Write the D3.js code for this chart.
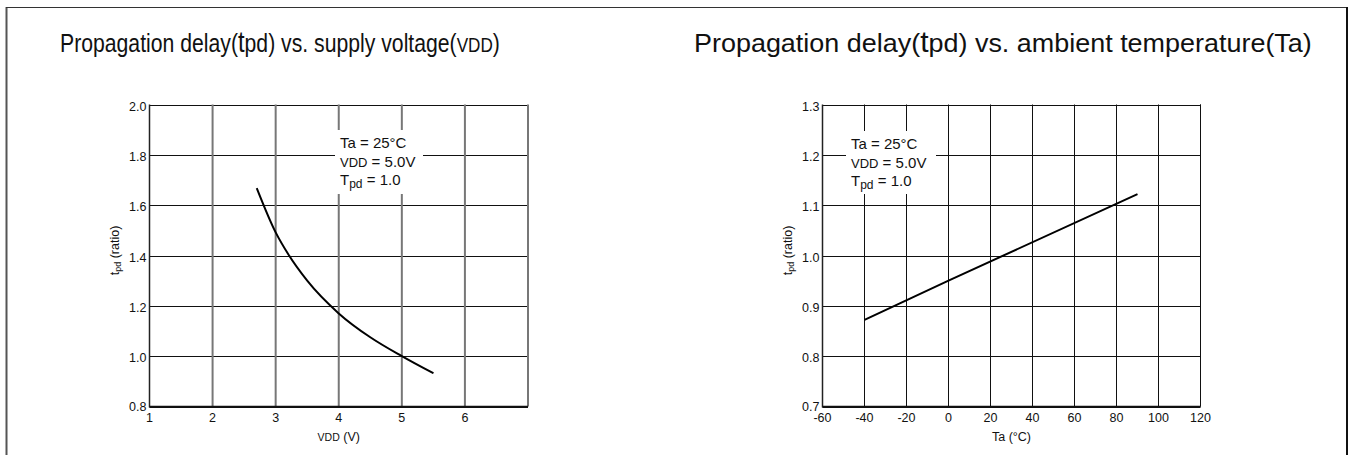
<!DOCTYPE html>
<html>
<head>
<meta charset="utf-8">
<script src="https://cdn.jsdelivr.net/npm/d3@7"></script>
<style>
  body { margin: 0; background: #fff; }
  text { font-family: "Liberation Sans", Arial, sans-serif; fill: #111; }
</style>
</head>
<body>
<script>
// data
const vddVolts  = [2.7, 3.0, 3.2, 3.5, 4.0, 4.5, 5.0, 5.5];
const vddRatio  = [1.668, 1.492, 1.405, 1.30, 1.17, 1.075, 1.0, 0.932];
const vddTicks  = [1, 2, 3, 4, 5, 6];
const vddRatioTicks = [0.8, 1.0, 1.2, 1.4, 1.6, 1.8, 2.0];

const tempC     = [-40, 0, 90];
const tempRatio = [0.872, 0.95, 1.122];
const tempTicks = [-60, -40, -20, 0, 20, 40, 60, 80, 100, 120];
const tempRatioTicks = [0.7, 0.8, 0.9, 1.0, 1.1, 1.2, 1.3];

const W = 1348, H = 455;

const svg = d3.select("body").append("svg")
  .attr("width", W)
  .attr("height", H);

// outer frame
svg.append("line").attr("x1", 6.5).attr("x2", 6.5).attr("y1", 7).attr("y2", H)
  .attr("stroke", "#555").attr("stroke-width", 2);
svg.append("line").attr("x1", 6).attr("x2", 1347).attr("y1", 7.5).attr("y2", 7.5)
  .attr("stroke", "#333").attr("stroke-width", 1);
svg.append("line").attr("x1", 1347).attr("x2", 1347).attr("y1", 7).attr("y2", H)
  .attr("stroke", "#111").attr("stroke-width", 2);

// plain hyphen for negatives, like the reference
const intFmt = d => String(d);

drawChart({
  left: 149.5, right: 528, top: 104.5, bottom: 406.5,
  xDomain: [1, 7], yDomain: [0.8, 2.0],
  xTicks: vddTicks, yTicks: vddRatioTicks,
  xFmt: intFmt, yFmt: d3.format(".1f"),
  vGridColor: "#777", vGridWidth: 2,
  xs: vddVolts, ys: vddRatio,
  curve: d3.curveMonotoneX,
  title: ["Propagation delay(", {t: "t", big: true}, "pd) vs. supply voltage(", {t: "VDD", small: true}, ")"],
  titleX: 60, titleLen: 440,
  xLabel: [{t: "VDD", small: true}, " (V)"],
  note: {x: 340, y: 130, w: 88, h: 64}
});

drawChart({
  left: 822.5, right: 1200.5, top: 104.5, bottom: 406.5,
  xDomain: [-60, 120], yDomain: [0.7, 1.3],
  xTicks: tempTicks, yTicks: tempRatioTicks,
  xFmt: intFmt, yFmt: d3.format(".1f"),
  vGridColor: "#111", vGridWidth: 1,
  xs: tempC, ys: tempRatio,
  curve: d3.curveLinear,
  title: ["Propagation delay(", {t: "t", big: true}, "pd) vs. ambient temperature(Ta)"],
  titleX: 694, titleLen: 618,
  xLabel: ["Ta (°C)"],
  note: {x: 851, y: 131, w: 90, h: 63}
});

function addRuns(sel, parts, smallSize, bigSize) {
  parts.forEach(p => {
    if (typeof p === "string") sel.append("tspan").text(p);
    else {
      const ts = sel.append("tspan").text(p.t);
      if (p.small) ts.attr("font-size", smallSize);
      if (p.big) ts.attr("font-size", bigSize);
    }
  });
}

function drawChart(c) {
  const x = d3.scaleLinear().domain(c.xDomain).range([c.left, c.right]);
  const y = d3.scaleLinear().domain(c.yDomain).range([c.bottom, c.top]);
  const g = svg.append("g");

  // horizontal grid (black, thin)
  g.append("g").selectAll("line")
    .data(c.yTicks)
    .join("line")
      .attr("x1", c.left).attr("x2", c.right)
      .attr("y1", d => Math.round(y(d)) + 0.5).attr("y2", d => Math.round(y(d)) + 0.5)
      .attr("stroke", "#111").attr("stroke-width", 1);

  // vertical grid
  const vx = c.xTicks.slice(1).concat([c.xDomain[1]]);
  g.append("g").selectAll("line")
    .data(vx)
    .join("line")
      .attr("x1", d => x(d)).attr("x2", d => x(d))
      .attr("y1", c.top).attr("y2", c.bottom)
      .attr("stroke", c.vGridColor).attr("stroke-width", c.vGridWidth);

  // left axis + bottom axis lines
  g.append("line").attr("x1", x(c.xDomain[0])).attr("x2", x(c.xDomain[0]))
    .attr("y1", c.top).attr("y2", c.bottom + 1).attr("stroke", "#222").attr("stroke-width", 1.5);
  g.append("line").attr("x1", c.left).attr("x2", c.right)
    .attr("y1", y(c.yDomain[0])).attr("y2", y(c.yDomain[0])).attr("stroke", "#111").attr("stroke-width", 1.5);

  // annotation box, white background cuts the grid
  const n = c.note;
  g.append("rect").attr("x", n.x - 5).attr("y", n.y).attr("width", n.w)
    .attr("height", n.h).attr("fill", "#fff");
  const nt = g.append("g").attr("font-size", 15);
  nt.append("text").attr("x", n.x).attr("y", n.y + 18).text("Ta = 25°C");
  const l2 = nt.append("text").attr("x", n.x).attr("y", n.y + 37);
  addRuns(l2, [{t: "VDD", small: true}, " = 5.0V"], 13, 15);
  const l3 = nt.append("text").attr("x", n.x).attr("y", n.y + 55);
  l3.append("tspan").text("T");
  l3.append("tspan").attr("font-size", 12).attr("dy", 3).text("pd");
  l3.append("tspan").attr("dy", -3).text(" = 1.0");

  // data curve
  const pts = c.xs.map((v, i) => [v, c.ys[i]]);
  g.append("path")
    .datum(pts)
    .attr("fill", "none")
    .attr("stroke", "#000")
    .attr("stroke-width", 2)
    .attr("d", d3.line().x(d => x(d[0])).y(d => y(d[1])).curve(c.curve));

  // tick labels
  g.append("g").selectAll("text")
    .data(c.yTicks)
    .join("text")
      .attr("x", c.left - 3)
      .attr("y", (d, i) => y(d) + (i === 0 ? 4 : 6))
      .attr("text-anchor", "end")
      .attr("font-size", 12.5)
      .attr("fill", "#222")
      .text(c.yFmt);
  g.append("g").selectAll("text")
    .data(c.xTicks)
    .join("text")
      .attr("x", d => x(d))
      .attr("y", c.bottom + 15)
      .attr("text-anchor", "middle")
      .attr("font-size", 12.5)
      .attr("fill", "#222")
      .text(c.xFmt);

  // axis titles
  const xl = g.append("text")
    .attr("x", (c.left + c.right) / 2)
    .attr("y", c.bottom + 34)
    .attr("text-anchor", "middle")
    .attr("font-size", 12.5);
  addRuns(xl, c.xLabel, 10.5, 12.5);

  const yl = g.append("text")
    .attr("transform", `translate(${c.left - 31}, ${(c.top + c.bottom) / 2 - 5}) rotate(-90)`)
    .attr("text-anchor", "middle")
    .attr("font-size", 12.5);
  yl.append("tspan").text("t");
  yl.append("tspan").attr("font-size", 9).attr("dy", 2).text("pd");
  yl.append("tspan").attr("dy", -2).text(" (ratio)");

  // chart title, squeezed or stretched horizontally to the width seen in the reference
  const tt = svg.append("text")
    .attr("font-size", 26);
  addRuns(tt, c.title, 21, 29);
  const sx = c.titleLen / tt.node().getComputedTextLength();
  tt.attr("transform", `translate(${c.titleX}, 52) scale(${sx}, 1)`);
}
</script>
</body>
</html>
